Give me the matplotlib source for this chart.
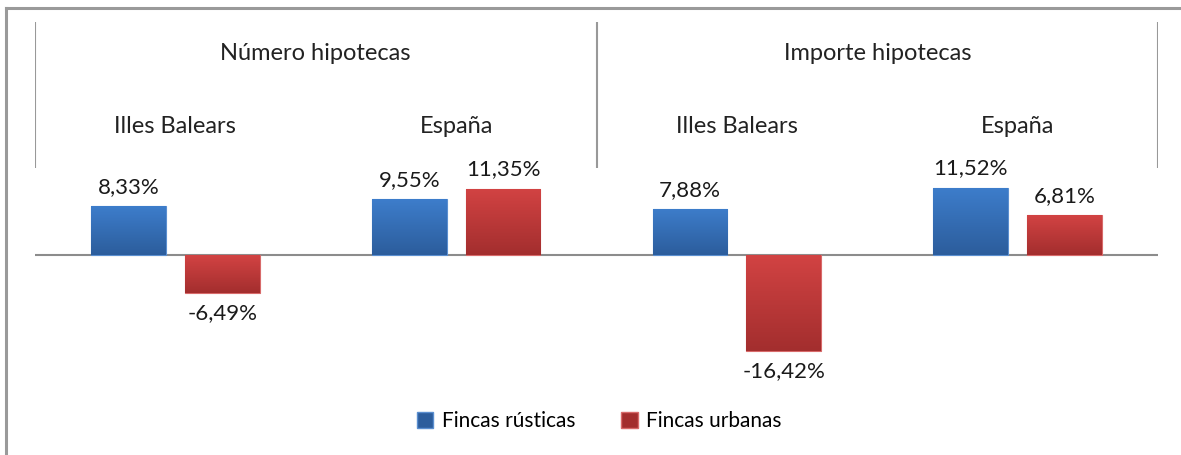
import matplotlib.pyplot as plt
import matplotlib.patches as mpatches
import numpy as np
from matplotlib.colors import LinearSegmentedColormap

plt.rcParams['font.family'] = ['Lato', 'DejaVu Sans']

# --- data ---
groups = ["Illes Balears", "España", "Illes Balears", "España"]
headers = ["Número hipotecas", "Importe hipotecas"]
series = ["Fincas rústicas", "Fincas urbanas"]
rusticas = [8.33, 9.55, 7.88, 11.52]
urbanas = [-6.49, 11.35, -16.42, 6.81]

blue_top, blue_bot = "#3d7dcb", "#2c5d9c"
red_top, red_bot = "#d24343", "#a32e2e"

fig = plt.figure(figsize=(11.81, 4.55), dpi=100)
ax = fig.add_axes([35 / 1181, (455 - 384) / 455, 1123 / 1181, 363 / 455])
ax.set_xlim(-0.5, 3.5)
ax.set_ylim(-22, 40)
ax.axis("off")

x = np.arange(len(groups))
w = 0.267
off = 0.167


def gradient_bars(bars, c_top, c_bot):
    cmap = LinearSegmentedColormap.from_list("g", [c_bot, c_top])
    grad = np.linspace(0, 1, 100).reshape(-1, 1)
    for b in bars:
        x0, y0 = b.get_x(), b.get_y()
        bw, bh = b.get_width(), b.get_height()
        lo, hi = min(y0, y0 + bh), max(y0, y0 + bh)
        im = ax.imshow(grad, cmap=cmap, aspect="auto", origin="lower",
                       extent=(x0, x0 + bw, lo, hi), zorder=2)
        im.set_clip_path(b)


b1 = ax.bar(x - off, rusticas, w, color=blue_bot, edgecolor="#5b8fd0",
            linewidth=0.8, zorder=2)
b2 = ax.bar(x + off, urbanas, w, color=red_bot, edgecolor="#d86a6a",
            linewidth=0.8, zorder=2)
gradient_bars(b1, blue_top, blue_bot)
gradient_bars(b2, red_top, red_bot)

# value labels
for bars, vals in ((b1, rusticas), (b2, urbanas)):
    for b, v in zip(bars, vals):
        dy = 14 if v >= 0 else -14
        ax.annotate(f"{v:.2f}%".replace(".", ","),
                    (b.get_x() + b.get_width() / 2, v),
                    xytext=(0, dy), textcoords="offset points",
                    ha="center", va="center", fontsize=16, color="#1a1a1a")

# zero line
ax.axhline(0, color="#8c8c8c", linewidth=1.5, zorder=1)

# header structure
ax.vlines([-0.5, 1.5, 3.5], 14.9, 39.8, color="#999999", linewidth=1.5)
for i, h in enumerate(headers):
    ax.text(2 * i + 0.5, 34.5, h, ha="center", va="center", fontsize=17,
            color="#222222")
for xi, g in zip(x, groups):
    ax.text(xi, 21.9, g, ha="center", va="center", fontsize=17,
            color="#222222")

# outer frame (left and top)
fig.add_artist(plt.Line2D([6 / 1181, 6 / 1181], [0, 1 - 8 / 455],
                          color="#9a9a9a", linewidth=2.2))
fig.add_artist(plt.Line2D([6 / 1181, 1], [1 - 8 / 455, 1 - 8 / 455],
                          color="#9a9a9a", linewidth=2.2))

# legend
handles = [mpatches.Patch(facecolor=blue_bot, edgecolor="#5b8fd0", label=series[0]),
           mpatches.Patch(facecolor=red_bot, edgecolor="#d86a6a", label=series[1])]
fig.legend(handles=handles, loc="center", bbox_to_anchor=(599 / 1181, 1 - 421 / 455),
           ncol=2, frameon=False, fontsize=15, handlelength=0.8, handleheight=0.8,
           handletextpad=0.4, columnspacing=2.2)

fig.savefig("out.png", dpi=100)
